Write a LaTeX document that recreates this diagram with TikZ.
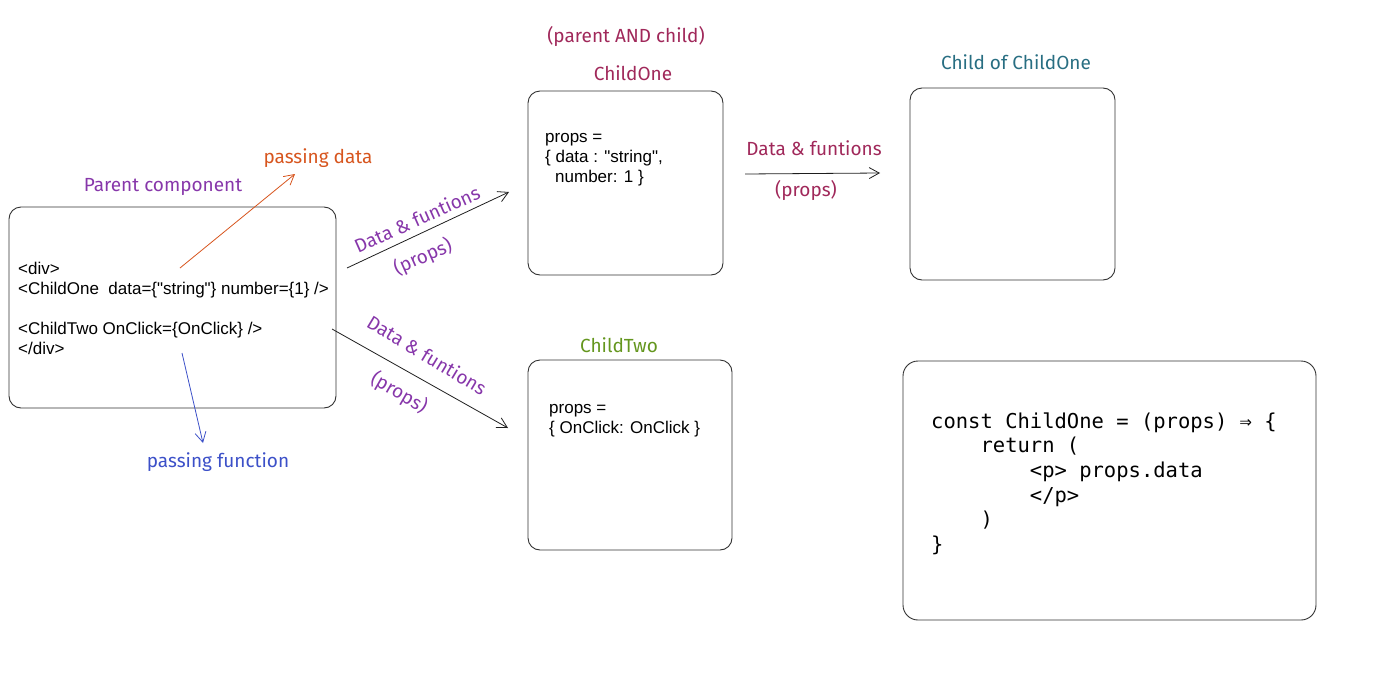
\documentclass[tikz,border=0pt]{standalone}
\usepackage{fontspec}
\setmainfont{Liberation Sans}[Ligatures=TeXOff]
\newfontfamily\hand{Fira Sans}
\newfontfamily\code{DejaVu Sans Mono}
\usetikzlibrary{arrows.meta}
\definecolor{crim}{RGB}{160,40,90}
\definecolor{tealc}{RGB}{40,110,130}
\definecolor{olivec}{RGB}{100,150,30}
\definecolor{purp}{RGB}{135,55,170}
\definecolor{orng}{RGB}{215,85,30}
\definecolor{blu}{RGB}{60,80,200}
\definecolor{edge}{RGB}{50,50,50}
\definecolor{ink}{RGB}{30,30,30}
\newcommand\dq{\char34\relax}
\begin{document}
\begin{tikzpicture}[x=1pt,y=-1pt,
  box/.style={draw=edge, line width=0.9pt, rounded corners=12pt, inner sep=0pt},
  body/.style={font=\fontsize{17}{20}\selectfont, align=left, anchor=north west, inner sep=0pt},
  codetxt/.style={font=\code\fontsize{20.5}{24.6}\selectfont, align=left, anchor=north west, inner sep=0pt},
  hw/.style={font=\hand\fontsize{19}{22}\selectfont, inner sep=0pt},
  conn/.style={-{Straight Barb[length=10pt,width=11pt]}, line width=0.8pt, draw=ink},
]
\useasboundingbox (0,0) rectangle (1384,680);

% boxes
\node[box, minimum width=327pt, minimum height=201pt] (parent) at (172.5,307.5) {};
\node[box, minimum width=195pt, minimum height=184pt] (c1) at (625.5,183) {};
\node[box, minimum width=205pt, minimum height=192pt] (cc1) at (1012.5,184) {};
\node[box, minimum width=204pt, minimum height=190pt] (c2) at (630,455) {};
\node[box, minimum width=413pt, minimum height=259pt, rounded corners=15pt] (code) at (1109.5,490.5) {};

% box texts
\node[body] (ptxt) at (18,261) {\rule{0pt}{13pt}<div>\\<ChildOne\ \ data=\{\dq string\dq\} number=\{1\} />\\[20pt]<ChildTwo OnClick=\{OnClick\} />\\</div>};
\node[body] (c1txt) at (545,129.5) {\rule{0pt}{13pt}props =\\\{ data : \dq string\dq,\\\hspace*{10pt}number: 1 \}};
\node[body] (c2txt) at (549,400.5) {\rule{0pt}{13pt}props =\\\{ OnClick: OnClick \}};
\node[codetxt] (codetxt) at (931,412) {\rule{0pt}{16pt}const ChildOne = (props) ⇒ \{\\\phantom{xxxx}return (\\\phantom{xxxxxxxx}<p> props.data\\\phantom{xxxxxxxx}</p>\\\phantom{xxxx})\\\}};

% labels
\node[hw, text=crim] (lpac) at (626,36) {(parent AND child)};
\node[hw, text=crim] (lc1) at (633,73) {ChildOne};
\node[hw, text=tealc] (lcc1) at (1016,62) {Child of ChildOne};
\node[hw, text=olivec] (lc2) at (619,345) {ChildTwo};
\node[hw, text=purp] (lpar) at (163,187) {Parent component};
\node[hw, text=orng] (lpd) at (318,158) {passing data};
\node[hw, text=blu] (lpf) at (218,462) {passing function};

\node[hw, text=purp, rotate=24] (ldf1) at (417,219) {Data \& funtions};
\node[hw, text=purp, rotate=24] (lpr1) at (423,257) {(props)};
\node[hw, text=purp, rotate=-31] (ldf2) at (427,355) {Data \& funtions};
\node[hw, text=purp, rotate=-30] (lpr2) at (399,393) {(props)};
\node[hw, text=crim] (ldf3) at (814,148) {Data \& funtions};
\node[hw, text=crim] (lpr3) at (806,190) {(props)};

% arrow ends
\coordinate (a1s) at (347,268);
\coordinate (a1e) at (509,192);
\coordinate (a2s) at (332,329);
\coordinate (a2e) at (508,428);
\coordinate (a3s) at (745,174);
\coordinate (a3e) at (880,173);
\coordinate (aos) at (180,268);
\coordinate (aoe) at (295,174);
\coordinate (abs) at (182,353);
\coordinate (abe) at (203,443);

\draw[conn] (a1s) -- (a1e);
\draw[conn] (a2s) -- (a2e);
\draw[conn] (a3s) -- (a3e);
\draw[conn, draw=orng] (aos) -- (aoe);
\draw[conn, draw=blu] (abs) -- (abe);
\end{tikzpicture}
\end{document}
